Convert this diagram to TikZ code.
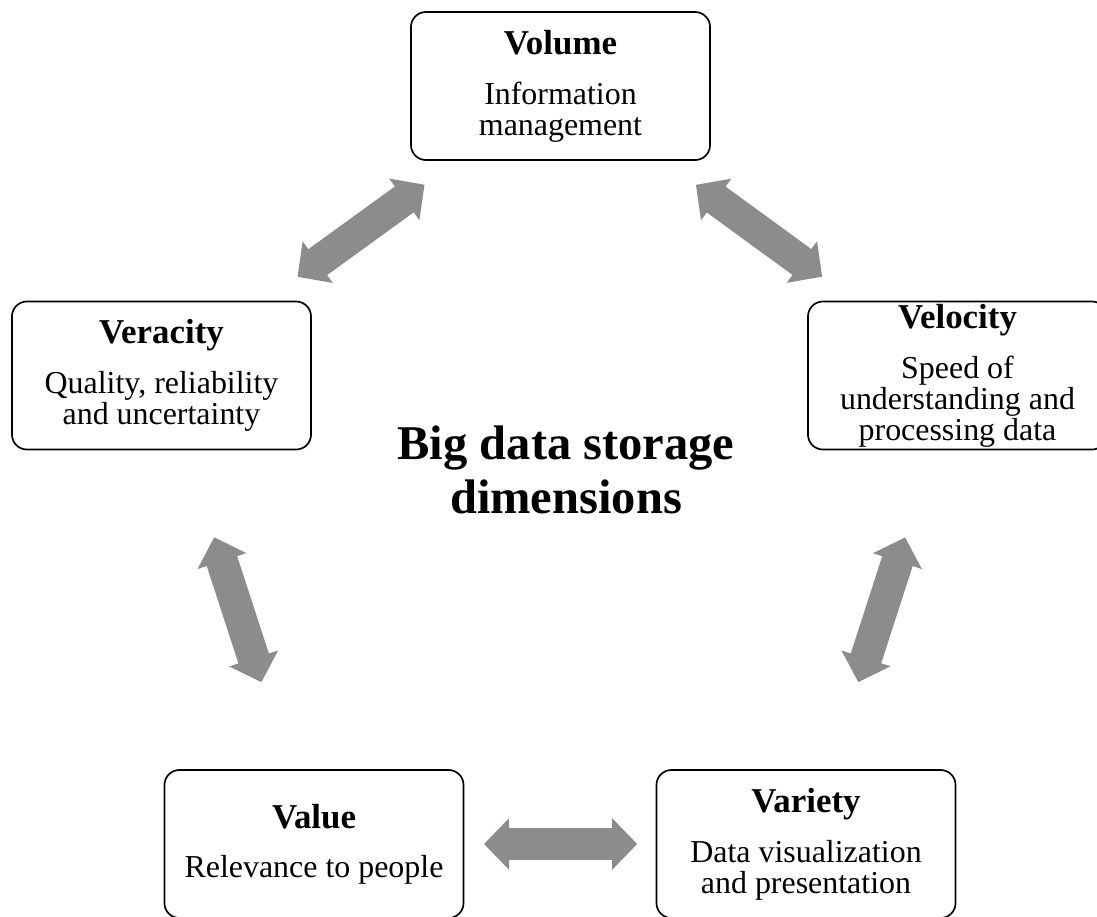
\documentclass[tikz,border=0pt]{standalone}
\usepackage{fontspec}
\setmainfont{Liberation Serif}
\usetikzlibrary{arrows.meta}
\definecolor{arrowgray}{RGB}{140,140,140}
\newcommand{\dimtitle}[1]{{\fontsize{24.8}{22}\selectfont\bfseries #1}}

\begin{document}
\begin{tikzpicture}[x=0.025cm, y=-0.025cm,
  dimbox/.style={draw=black, line width=1.2pt, rectangle, rounded corners=0.375cm,
    minimum width=7.475cm, minimum height=3.7cm, inner sep=0pt, align=center,
    font={\fontsize{22.7}{22}\selectfont}},
  biarrow/.style={draw=arrowgray, line width=0.8cm,
    {Triangle[length=0.625cm, width=1.25cm]}-{Triangle[length=0.625cm, width=1.25cm]}}]
\useasboundingbox (0,0) rectangle (1097,916);

\node[dimbox] (volume) at (560.5,86)
  {\dimtitle{Volume}\\[13.6pt]Information\\management};
\node[dimbox] (veracity) at (161.5,375.5)
  {\dimtitle{Veracity}\\[13.6pt]Quality, reliability\\and uncertainty};
\node[dimbox] (velocity) at (957.5,375.5)
  {\dimtitle{Velocity}\\[13.6pt]Speed of\\understanding and\\processing data};
\node[dimbox] (value) at (314,844)
  {\dimtitle{Value}\\[13pt]Relevance to people};
\node[dimbox] (variety) at (806,844)
  {\dimtitle{Variety}\\[13.6pt]Data visualization\\and presentation};

\node[align=center, font={\bfseries\fontsize{34.5}{38}\selectfont}] (bigdata) at (566,470)
  {Big data storage\\dimensions};

\draw[biarrow, shorten <=1.015cm, shorten >=1.015cm] (veracity) -- (volume);
\draw[biarrow, shorten <=1.015cm, shorten >=1.015cm] (volume) -- (velocity);
\draw[biarrow, shorten <=2.285cm, shorten >=2.285cm] (veracity) -- (value);
\draw[biarrow, shorten <=2.285cm, shorten >=2.285cm] (velocity) -- (variety);
\draw[biarrow, shorten <=0.49cm, shorten >=0.46cm] (value) -- (variety);

\end{tikzpicture}
\end{document}
